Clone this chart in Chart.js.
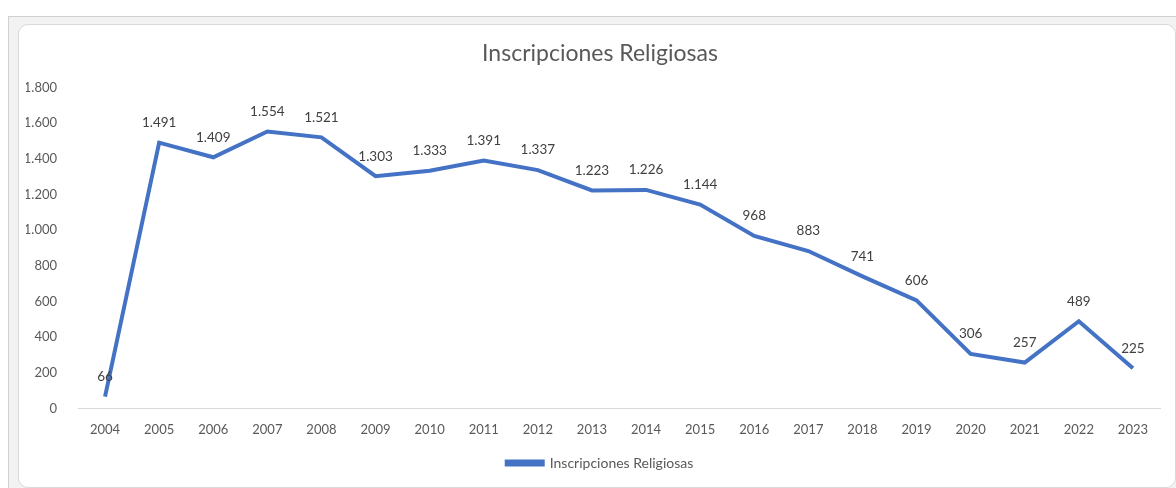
<!DOCTYPE html>
<html>
<head>
<meta charset="utf-8">
<script src="https://cdn.jsdelivr.net/npm/chart.js@4.4.0/dist/chart.umd.min.js"></script>
<style>
  body { margin: 0; background: #fff; width: 1176px; height: 488px; overflow: hidden; }
  .frame { position: absolute; left: 8px; top: 16px; width: 1168px; height: 472px;
           background: #f2f2f2; border-top: 1px solid #d0d0d0; border-left: 1px solid #d0d0d0; }
  .sheet { position: absolute; left: 18px; top: 24px; width: 1156px; height: 462px;
           background: #fff; border: 1px solid #d9d9d9; border-radius: 10px; }
  canvas { position: absolute; left: 0; top: 0; }
</style>
</head>
<body>
<div class="frame"></div>
<div class="sheet"></div>
<canvas id="chart" width="1176" height="488"></canvas>
<script>
// datos
const years = ["2004", "2005", "2006", "2007", "2008", "2009", "2010", "2011", "2012", "2013",
               "2014", "2015", "2016", "2017", "2018", "2019", "2020", "2021", "2022", "2023"];
const inscripciones = [66, 1491, 1409, 1554, 1521, 1303, 1333, 1391, 1337, 1223,
                       1226, 1144, 968, 883, 741, 606, 306, 257, 489, 225];
const yTicks = [0, 200, 400, 600, 800, 1000, 1200, 1400, 1600, 1800];

const fmt = v => String(v).replace(/\B(?=(\d{3})+(?!\d))/g, ".");

// etiquetas de datos encima de cada punto
const pointLabels = {
    id: "pointLabels",
    afterDatasetsDraw(chart) {
        const ctx = chart.ctx;
        const meta = chart.getDatasetMeta(0);
        ctx.save();
        ctx.font = "13.5px Lato";
        ctx.fillStyle = "#404040";
        ctx.textAlign = "center";
        ctx.textBaseline = "middle";
        meta.data.forEach((pt, i) => {
            ctx.fillText(fmt(inscripciones[i]), pt.x, pt.y - 20);
        });
        ctx.restore();
    }
};

// titulo y leyenda centrados como en excel (un poco a la derecha)
const shiftBlocks = {
    id: "shiftBlocks",
    afterLayout(chart) {
        [chart.titleBlock, chart.legend].forEach(b => {
            if (b) { b.left += 7; b.right += 7; }
        });
    }
};

new Chart(document.getElementById("chart"), {
    type: "line",
    data: {
        labels: years,
        datasets: [{
            label: "Inscripciones Religiosas",
            data: inscripciones,
            borderColor: "#4472c4",
            backgroundColor: "#4472c4",
            borderWidth: 4,
            pointRadius: 0,
            tension: 0
        }]
    },
    options: {
        responsive: false,
        animation: false,
        layout: { padding: { left: 26, right: 16, top: 24, bottom: 8 } },
        plugins: {
            title: {
                display: true,
                text: "Inscripciones Religiosas",
                color: "#595959",
                font: { family: "Lato", size: 23, weight: "normal" },
                padding: { top: 16, bottom: 20 }
            },
            legend: {
                position: "bottom",
                labels: {
                    color: "#595959",
                    font: { family: "Lato", size: 14 },
                    boxWidth: 36,
                    boxHeight: 3
                }
            },
            tooltip: { enabled: false }
        },
        scales: {
            x: {
                offset: true,
                grid: { display: false },
                border: { display: true, color: "#d9d9d9", width: 1 },
                afterFit: s => { s.height += 2; },
                ticks: { color: "#595959", font: { family: "Lato", size: 13 }, padding: 6, maxRotation: 0 }
            },
            y: {
                min: 0,
                max: 1800,
                afterBuildTicks: s => { s.ticks = yTicks.map(v => ({ value: v })); },
                afterFit: s => { s.width = 52; },
                grid: { display: false },
                border: { display: false },
                ticks: {
                    color: "#595959",
                    font: { family: "Lato", size: 13 },
                    padding: 13,
                    callback: v => fmt(v)
                }
            }
        }
    },
    plugins: [pointLabels, shiftBlocks]
});
</script>
</body>
</html>
